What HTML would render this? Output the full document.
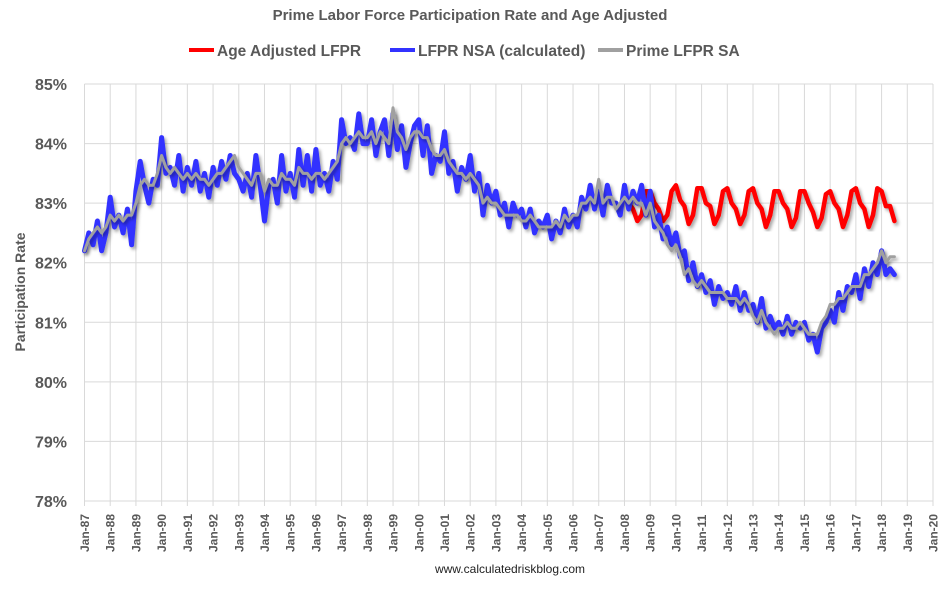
<!DOCTYPE html>
<html><head><meta charset="utf-8"><style>
body{margin:0;background:#fff;}
svg text{font-family:"Liberation Sans",sans-serif;fill:#595959;font-weight:bold;}
</style></head><body>
<svg id="chart" width="946" height="588" viewBox="0 0 946 588" xmlns="http://www.w3.org/2000/svg">
<defs><filter id="sh" x="-5%" y="-5%" width="110%" height="115%"><feDropShadow dx="2" dy="2.5" stdDeviation="1.5" flood-color="#000" flood-opacity="0.35"/></filter></defs>
<text x="470" y="20" text-anchor="middle" font-size="15">Prime Labor Force Participation Rate and Age Adjusted</text>
<g>
<g><line x1="189" y1="50" x2="214" y2="50" stroke="#ff0000" stroke-width="4"/><text x="217" y="56" font-size="15.5">Age Adjusted LFPR</text></g>
<g><line x1="390" y1="50" x2="415" y2="50" stroke="#3333ff" stroke-width="4"/><text x="418" y="56" font-size="15.5">LFPR NSA (calculated)</text></g>
<g><line x1="598" y1="50" x2="623" y2="50" stroke="#a0a0a0" stroke-width="4"/><text x="626" y="56" font-size="15.5">Prime LFPR SA</text></g>
</g>
<g id="grid"></g>
<g id="axes"></g>
<g id="series"></g>
<text transform="translate(25,292) rotate(-90)" text-anchor="middle" font-size="14">Participation Rate</text>
<text x="510" y="573" text-anchor="middle" font-size="12" style="font-weight:normal;fill:#222">www.calculatedriskblog.com</text>
</svg>
<script>
const yTicks=[78,79,80,81,82,83,84,85];
const xYears=[];for(let y=1987;y<=2020;y++)xYears.push(y);
const nsaValues=[
82.2,82.5,82.3,82.7,82.2,82.5, 83.1,82.6,82.8,82.5,82.9,82.3, 83.2,83.7,83.3,83.0,83.4,83.3,
84.1,83.5,83.6,83.3,83.8,83.2, 83.6,83.3,83.7,83.2,83.5,83.1, 83.6,83.3,83.7,83.4,83.8,83.5,
83.4,83.2,83.5,83.1,83.8,83.3, 82.7,83.3,83.4,83.0,83.8,83.2, 83.5,83.1,83.9,83.3,83.8,83.2,
83.9,83.3,83.5,83.2,83.7,83.4, 84.4,84.0,84.1,83.9,84.5,84.0, 84.0,84.4,83.8,84.2,84.4,83.8,
84.5,83.9,84.3,83.6,84.0,84.3, 84.4,83.8,84.3,83.5,83.8,83.7, 84.2,83.5,83.7,83.2,83.6,83.4,
83.8,83.2,83.5,82.8,83.3,83.0, 83.2,82.8,83.0,82.6,83.0,82.8, 82.9,82.6,82.9,82.5,82.7,82.6,
82.8,82.4,82.7,82.5,82.9,82.6, 82.8,82.6,83.1,82.9,83.3,82.9, 83.2,82.8,83.3,83.0,83.0,82.8,
83.3,82.9,83.2,83.0,83.3,82.8, 83.2,82.6,82.8,82.4,82.6,82.3, 82.5,82.1,82.2,81.7,82.0,81.6,
81.8,81.5,81.7,81.3,81.6,81.4, 81.5,81.3,81.6,81.2,81.5,81.2, 81.3,81.0,81.4,80.9,81.1,80.9,
81.0,80.8,81.1,80.8,81.0,80.9, 81.0,80.7,80.8,80.5,80.9,81.0, 81.2,81.0,81.5,81.2,81.6,81.5,
81.8,81.4,81.9,81.6,82.0,81.8, 82.2,81.8,81.9,81.8];
const saValues=[
82.2,82.4,82.5,82.6,82.5,82.6, 82.8,82.7,82.8,82.7,82.8,82.8, 83.0,83.3,83.4,83.3,83.3,83.5,
83.8,83.6,83.5,83.6,83.5,83.4, 83.5,83.4,83.5,83.4,83.4,83.3, 83.4,83.5,83.5,83.6,83.7,83.8,
83.6,83.5,83.4,83.3,83.5,83.5, 83.2,83.4,83.3,83.3,83.5,83.4, 83.4,83.3,83.6,83.5,83.5,83.4,
83.5,83.5,83.4,83.5,83.6,83.7, 84.0,84.1,84.0,84.1,84.2,84.1, 84.1,84.2,84.0,84.2,84.1,84.0,
84.6,84.2,84.1,83.9,84.1,84.2, 84.2,84.1,84.1,83.9,83.8,83.8, 83.9,83.7,83.6,83.5,83.5,83.4,
83.5,83.4,83.3,83.0,83.1,83.0, 83.0,82.9,82.8,82.8,82.8,82.8, 82.7,82.7,82.8,82.7,82.6,82.6,
82.6,82.6,82.7,82.6,82.8,82.7, 82.8,82.8,83.0,83.0,83.1,83.0, 83.4,83.0,83.1,83.1,82.9,83.0,
83.1,83.0,83.1,83.0,83.0,82.8, 83.0,82.7,82.6,82.5,82.3,82.2, 82.3,82.1,81.8,81.9,81.7,81.6,
81.7,81.6,81.5,81.5,81.5,81.5, 81.4,81.4,81.4,81.3,81.4,81.3, 81.1,81.0,81.2,81.0,80.9,80.8,
80.9,80.9,81.0,80.9,80.9,81.0, 80.9,80.8,80.8,80.8,81.0,81.1, 81.3,81.3,81.4,81.4,81.5,81.6,
81.6,81.6,81.8,81.8,81.9,82.0, 82.2,82.0,82.1,82.1];
const ageAdjValues=[
83.1,83.0,82.9,82.7,82.8,83.2, 83.2,83.0,82.9,82.7,82.8,83.2, 83.3,83.05,82.95,82.65,82.8,83.25,
83.25,83.0,82.95,82.65,82.8,83.2, 83.25,83.0,82.9,82.65,82.8,83.2, 83.25,83.0,82.9,82.6,82.8,83.2,
83.2,83.0,82.9,82.6,82.75,83.2, 83.2,83.0,82.85,82.6,82.75,83.15, 83.2,83.0,82.9,82.6,82.8,83.2,
83.25,83.0,82.9,82.6,82.8,83.25, 83.2,82.95,82.95,82.7];
const NS='http://www.w3.org/2000/svg';
const L=84.5,R=933,T=84,B=501;
function xScale(yearFrac){return L+(yearFrac-1987)/(2020-1987)*(R-L);}
function yScale(v){return B-(v-78)/(85-78)*(B-T);}
const grid=document.getElementById('grid'),axes=document.getElementById('axes'),series=document.getElementById('series');
yTicks.forEach(v=>{
 const y=yScale(v);
 const ln=document.createElementNS(NS,'line');
 
 
 ln.setAttribute('x1',L);ln.setAttribute('x2',R);ln.setAttribute('y1',y);ln.setAttribute('y2',y);
 ln.setAttribute('stroke','#d9d9d9');ln.setAttribute('stroke-width','1');grid.appendChild(ln);
 const t=document.createElementNS(NS,'text');
 
 
 t.setAttribute('x',67);t.setAttribute('y',y+6);t.setAttribute('text-anchor','end');t.setAttribute('font-size','16');
 t.textContent=v+'%';axes.appendChild(t);
});
xYears.forEach(yr=>{
 const x=xScale(yr);
 const ln=document.createElementNS(NS,'line');
 
 
 ln.setAttribute('x1',x);ln.setAttribute('x2',x);ln.setAttribute('y1',T);ln.setAttribute('y2',B+5);
 ln.setAttribute('stroke','#d9d9d9');ln.setAttribute('stroke-width','1');grid.appendChild(ln);
 const t=document.createElementNS(NS,'text');
 
 
 t.setAttribute('transform','translate('+(x+4.5)+',552) rotate(-90)');t.setAttribute('font-size','12');
 t.textContent='Jan-'+String(yr).slice(2);axes.appendChild(t);
});
function drawLine(vals,startYear,color,w,name){
 const pts=vals.map((v,i)=>xScale(startYear+i/6).toFixed(1)+','+yScale(v).toFixed(1)).join(' ');
 const p=document.createElementNS(NS,'polyline');
 
 
 p.setAttribute('points',pts);p.setAttribute('fill','none');p.setAttribute('stroke',color);
 p.setAttribute('stroke-width',w);p.setAttribute('stroke-linejoin','round');p.setAttribute('stroke-linecap','round');p.setAttribute('filter','url(#sh)');
 series.appendChild(p);
}
drawLine(ageAdjValues,2008,'#ff0000',4.5,'age-adjusted-lfpr-line');
drawLine(nsaValues,1987,'#3333ff',5,'lfpr-nsa-line');
drawLine(saValues,1987,'#a0a0a0',3,'prime-lfpr-sa-line');
</script>
</body></html>
